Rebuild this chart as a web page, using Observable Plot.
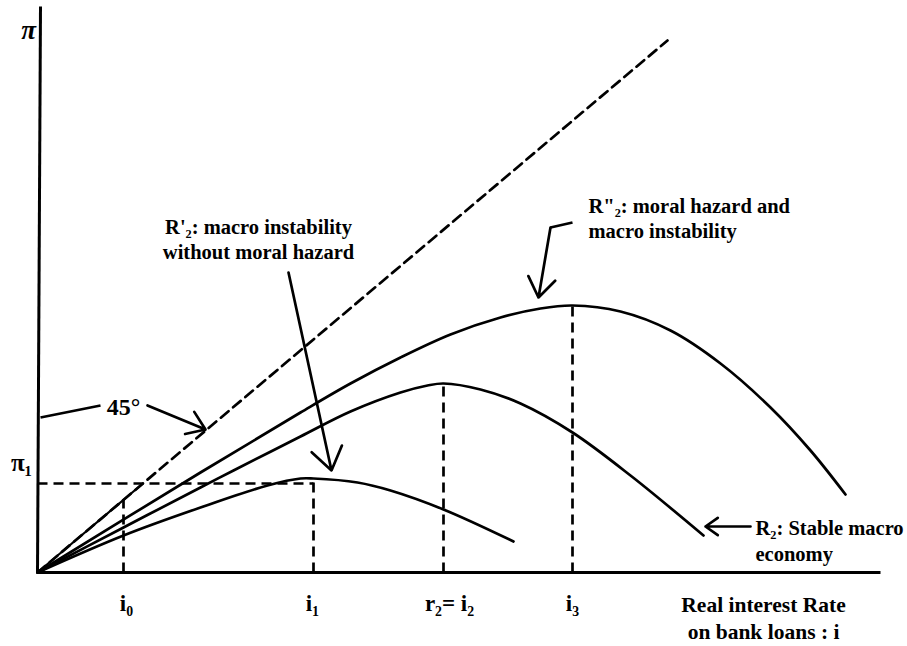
<!DOCTYPE html>
<html>
<head>
<meta charset="utf-8">
<script src="https://cdn.jsdelivr.net/npm/d3@7"></script>
<script src="https://cdn.jsdelivr.net/npm/@observablehq/plot@0.6"></script>
<style>
  html, body { margin: 0; padding: 0; background: #fff; }
  #chart svg { display: block; }
</style>
</head>
<body>
<div id="chart"></div>
<script>
// Interest rate i (horizontal) and profit π (vertical), in diagram units
const rPrimeI  = [0, 86, 163, 230, 263, 276, 320, 353, 406, 476];
const rPrimePi = [0, 37, 65, 87, 94, 94, 90, 82, 63, 31];

const r2I  = [0, 86, 163, 196, 263, 313, 363, 390, 406, 443, 483, 535, 593, 666];
const r2Pi = [0, 45, 85, 102, 136, 161, 180, 187, 189, 183, 169, 140, 97, 37];

const r2ppI  = [0, 163, 263, 313, 363, 413, 463, 503, 535, 583, 633, 683, 733, 773, 808];
const r2ppPi = [0, 100, 160, 189, 215, 238, 255, 264, 267, 261, 242, 209, 165, 122, 78];

const line45I  = [0, 630];
const line45Pi = [0, 532];

const markI   = [86, 276, 406, 535];      // i0, i1, i2, i3
const markTop = [73, 92, 189, 267];       // height reached by each dropped line
const pi1 = 89;                            // π1 level

const tickLabels = ["i₀", "i₁", "r₂= i₂", "i₃"];
const tickLabelI = [89, 275, 412, 535];

const toPts = (xs, ys) => xs.map((x, k) => ({i: x, p: ys[k]}));

const serif = "Liberation Serif, Times New Roman, serif";
const SW = 2.7;

const chart = Plot.plot({
  width: 907,
  height: 646,
  margin: 0,
  style: {background: "#fff", overflow: "visible"},
  x: {domain: [-37, 870], range: [0, 907], axis: null},
  y: {domain: [-74, 572], range: [646, 0], axis: null},
  marks: [
    // axes
    Plot.link([{x1: 0, y1: 0, x2: 3, y2: 566}], {x1: "x1", y1: "y1", x2: "x2", y2: "y2", stroke: "#000", strokeWidth: 3}),
    Plot.link([{x1: 0, y1: 0, x2: 843, y2: 0}], {x1: "x1", y1: "y1", x2: "x2", y2: "y2", stroke: "#000", strokeWidth: 3}),
    // 45° dashed line (solid near the origin up to the π1 level)
    Plot.line(toPts(line45I, line45Pi), {x: "i", y: "p", stroke: "#000", strokeWidth: SW, strokeDasharray: "10,6"}),
    Plot.link([{x1: 0, y1: 0, x2: pi1 / (line45Pi[1] / line45I[1]), y2: pi1}], {x1: "x1", y1: "y1", x2: "x2", y2: "y2", stroke: "#000", strokeWidth: 2.2}),
    // π1 dashed horizontal
    Plot.link([{x1: 0, x2: markI[1], y: pi1}], {x1: "x1", x2: "x2", y1: "y", y2: "y", stroke: "#000", strokeWidth: SW, strokeDasharray: "10,6"}),
    // dropped dashed verticals
    Plot.link(markI.map((v, k) => ({x: v, top: markTop[k]})), {x1: "x", x2: "x", y1: 0, y2: "top", stroke: "#000", strokeWidth: SW, strokeDasharray: "10,6"}),
    // curves
    Plot.line(toPts(rPrimeI, rPrimePi), {x: "i", y: "p", stroke: "#000", strokeWidth: SW, curve: "catmull-rom"}),
    Plot.line(toPts(r2I, r2Pi), {x: "i", y: "p", stroke: "#000", strokeWidth: SW, curve: "catmull-rom"}),
    Plot.line(toPts(r2ppI, r2ppPi), {x: "i", y: "p", stroke: "#000", strokeWidth: SW, curve: "catmull-rom"}),
    // annotation leaders and arrows
    Plot.link([{x1: 3, y1: 155, x2: 63, y2: 167}, {x1: 535, y1: 350, x2: 513, y2: 345}], {x1: "x1", y1: "y1", x2: "x2", y2: "y2", stroke: "#000", strokeWidth: SW}),
    Plot.arrow([
      {x1: 110, y1: 167, x2: 168, y2: 143},
      {x1: 251, y1: 300, x2: 294, y2: 102},
      {x1: 513, y1: 345, x2: 501, y2: 275},
      {x1: 713, y1: 46, x2: 668, y2: 46}
    ], {x1: "x1", y1: "y1", x2: "x2", y2: "y2", stroke: "#000", strokeWidth: SW, headLength: 15, headAngle: 70, bend: 0}),
    // axis symbols
    Plot.text([{x: -9, y: 542, t: "π"}], {x: "x", y: "y", text: "t", fontFamily: serif, fontWeight: "bold", fontStyle: "italic", fontSize: 27}),
    Plot.text([{x: -16, y: 110, t: "π₁"}], {x: "x", y: "y", text: "t", fontFamily: serif, fontWeight: "bold", fontSize: 25}),
    Plot.text([{x: 86, y: 165, t: "45°"}], {x: "x", y: "y", text: "t", fontFamily: serif, fontWeight: "bold", fontSize: 24}),
    // tick labels
    Plot.text(tickLabels.map((t, k) => ({t, x: tickLabelI[k]})), {x: "x", y: -31, text: "t", fontFamily: serif, fontWeight: "bold", fontSize: 23}),
    // axis title
    Plot.text([{t: "Real interest Rate\non bank loans : i"}], {x: 726, y: -44, text: "t", fontFamily: serif, fontWeight: "bold", fontSize: 21.5, lineHeight: 1.25}),
    // curve labels
    Plot.text([{t: "R'₂: macro instability\nwithout moral hazard"}], {x: 258 - 37, y: 334, text: "t", fontFamily: serif, fontWeight: "bold", fontSize: 20.5, lineHeight: 1.22}),
    Plot.text([{t: "R\"₂: moral hazard and\nmacro instability"}], {x: 551, y: 355, text: "t", textAnchor: "start", fontFamily: serif, fontWeight: "bold", fontSize: 20.5, lineHeight: 1.2}),
    Plot.text([{t: "R₂: Stable macro\neconomy"}], {x: 718, y: 33, text: "t", textAnchor: "start", fontFamily: serif, fontWeight: "bold", fontSize: 20.5, lineHeight: 1.27})
  ]
});
document.getElementById("chart").appendChild(chart);
</script>
</body>
</html>
